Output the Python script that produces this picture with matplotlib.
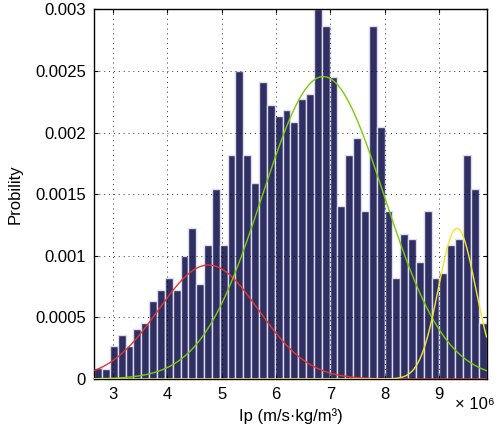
import numpy as np
import matplotlib
matplotlib.use("Agg")
import matplotlib.pyplot as plt
from matplotlib.ticker import FuncFormatter

plt.rcParams['font.family'] = ['Liberation Sans', 'DejaVu Sans']

# histogram (50 bins)
bin_left = 2.66e6
bin_width = 0.14426e6
heights = [
    0.000087, 0.000080, 0.000268, 0.000357, 0.000268, 0.000403, 0.000452, 0.000633, 0.000722, 0.000817,
    0.000722, 0.000998, 0.001223, 0.000768, 0.001088, 0.001542, 0.001088, 0.001818, 0.002500, 0.001818,
    0.001588, 0.002408, 0.002227, 0.002137, 0.002181, 0.002089, 0.002273, 0.002316, 0.003000, 0.002865,
    0.002454, 0.001407, 0.001818, 0.001953, 0.001364, 0.002865, 0.002045, 0.001364, 0.000817, 0.001177,
    0.001134, 0.000952, 0.001364, 0.000817, 0.000863, 0.001088, 0.001134, 0.001818, 0.001542, 0.000452,
]

# fitted mixture components: mean, std, peak height
comp_mean = [4.76e6, 6.87e6, 9.33e6]
comp_std = [0.92e6, 1.12e6, 0.34e6]
comp_peak = [0.000925, 0.002454, 0.001223]
comp_color = ["#e8352b", "#7ccc0a", "#f2e62a"]

x_lo = bin_left
x_hi = bin_left + bin_width * len(heights)

fig = plt.figure(figsize=(4.96, 4.32), dpi=100)
ax = fig.add_axes([0.190, 0.1227, 0.791, 0.8558])

edges = bin_left + bin_width * np.arange(len(heights))
ax.bar(edges, heights, width=bin_width, align="edge", color="#2f2f63",
       edgecolor="#dcdcec", linewidth=1.0, zorder=1)

xs = np.linspace(x_lo, x_hi, 600)
for m, s, p, c in zip(comp_mean, comp_std, comp_peak, comp_color):
    ax.plot(xs, p * np.exp(-0.5 * ((xs - m) / s) ** 2), color=c, lw=1.0, zorder=4)

ax.set_xlim(x_lo, x_hi)
ax.set_ylim(0, 0.003)
ax.set_xticks(np.arange(3, 10) * 1e6)
ax.set_yticks(np.arange(0, 0.0031, 0.0005))
ax.xaxis.set_major_formatter(FuncFormatter(lambda v, p: f"{v/1e6:g}"))
ax.yaxis.set_major_formatter(FuncFormatter(lambda v, p: f"{v:g}" if v > 0 else "0"))

ax.grid(True, linestyle=(0, (1, 4)), color="black", linewidth=0.7, alpha=0.8)
ax.set_axisbelow(False)
ax.tick_params(direction="in", length=3, top=True, right=True, labelsize=12, pad=6)
for sp in ax.spines.values():
    sp.set_linewidth(1.0)
    sp.set_zorder(3)

ax.set_xlabel("Ip (m/s·kg/m³)", fontsize=12, labelpad=4)
ax.set_ylabel("Probility", fontsize=12, labelpad=9)
fig.text(0.998, 0.047, "× 10⁶", fontsize=12, ha="right", va="bottom")

fig.savefig("out.png", dpi=100)
